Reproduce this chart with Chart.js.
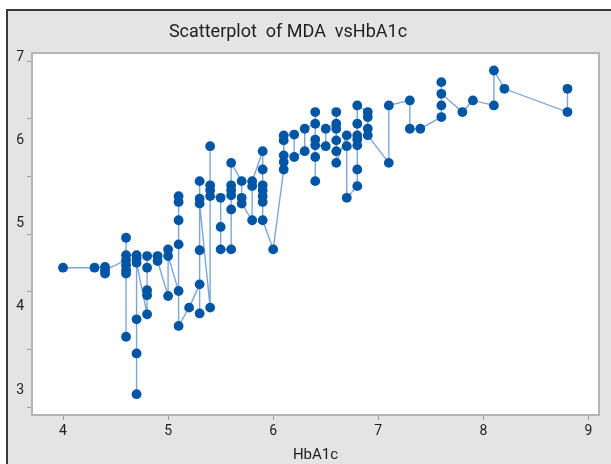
<!DOCTYPE html>
<html><head><meta charset="utf-8">
<script src="https://cdn.jsdelivr.net/npm/chart.js@4"></script>
<style>html,body{margin:0;padding:0;background:#fff}#wrap{width:611px;height:464px}</style>
</head><body><div id="wrap"><canvas id="c" width="611" height="464"></canvas></div>
<script>
const chartTitle = 'Scatterplot  of MDA  vsHbA1c';
const xAxisTitle = 'HbA1c';
const hba1c = [
  4.0, 4.3, 4.4, 4.4, 4.4,
  4.6, 4.6, 4.6, 4.6, 4.6, 4.6, 4.6,
  4.7, 4.7, 4.7, 4.7, 4.7, 4.7,
  4.8, 4.8, 4.8, 4.8, 4.8,
  4.9, 4.9,
  5.0, 5.0, 5.0,
  5.1, 5.1, 5.1, 5.1, 5.1, 5.1,
  5.2,
  5.3, 5.3, 5.3, 5.3, 5.3, 5.3,
  5.4, 5.4, 5.4, 5.4, 5.4,
  5.5, 5.5, 5.5,
  5.6, 5.6, 5.6, 5.6, 5.6, 5.6,
  5.7, 5.7, 5.7,
  5.8, 5.8, 5.8,
  5.9, 5.9, 5.9, 5.9, 5.9, 5.9, 5.9,
  6.0,
  6.1, 6.1, 6.1, 6.1, 6.1,
  6.2, 6.2,
  6.3, 6.3,
  6.4, 6.4, 6.4, 6.4, 6.4, 6.4,
  6.5, 6.5,
  6.6, 6.6, 6.6, 6.6, 6.6, 6.6,
  6.7, 6.7, 6.7,
  6.8, 6.8, 6.8, 6.8, 6.8, 6.8, 6.8,
  6.9, 6.9, 6.9, 6.9,
  7.1, 7.1,
  7.3, 7.3,
  7.4,
  7.6, 7.6, 7.6, 7.6,
  7.8,
  7.9,
  8.1, 8.1,
  8.2,
  8.8, 8.8
];
const mda = [
  4.47, 4.47, 4.48, 4.40, 4.44,
  4.56, 4.83, 3.64, 4.40, 4.44, 4.50, 4.62,
  4.62, 2.95, 3.44, 3.85, 4.58, 4.53,
  3.91, 4.14, 4.20, 4.47, 4.61,
  4.61, 4.55,
  4.13, 4.69, 4.61,
  4.19, 5.33, 5.26, 5.04, 4.75, 3.77,
  3.99,
  4.27, 3.92, 4.68, 5.51, 5.30, 5.24,
  3.99, 5.93, 5.46, 5.40, 5.33,
  5.31, 4.96, 4.69,
  4.69, 5.17, 5.34, 5.40, 5.46, 5.73,
  5.51, 5.31, 5.24,
  5.04, 5.45, 5.51,
  5.87, 5.65, 5.46, 5.40, 5.33, 5.26, 5.04,
  4.69,
  5.65, 5.74, 5.82, 6.00, 6.06,
  6.07, 5.80,
  5.87, 6.14,
  6.20, 6.34, 6.01, 5.80, 5.51, 5.94,
  5.93, 6.14,
  6.20, 6.34, 6.14, 6.00, 5.87, 5.73,
  6.06, 5.93, 5.31,
  5.45, 5.65, 5.94, 6.01, 6.06, 6.20, 6.42,
  6.34, 6.28, 6.14, 6.06,
  5.73, 6.42,
  6.48, 6.14,
  6.14,
  6.28, 6.42, 6.70, 6.56,
  6.34,
  6.48,
  6.42, 6.84,
  6.62,
  6.34, 6.62
];
const xTicks = [4, 5, 6, 7, 8, 9];
const yTicks = [3, 4, 5, 6, 7];
const yMinorTicks = [2.796, 3.489, 4.181, 4.874, 5.567, 6.259, 6.952];

const FONT = 'Roboto, "Open Sans", sans-serif';
const points = hba1c.map((x, i) => ({x: x, y: mda[i]}));

const framePlugin = {
  id: 'frame',
  beforeDraw(chart) {
    const ctx = chart.ctx, a = chart.chartArea;
    ctx.save();
    ctx.fillStyle = '#ffffff';
    ctx.fillRect(0, 0, chart.width, chart.height);
    ctx.fillStyle = '#e4e4e4';
    ctx.fillRect(7, 10, chart.width - 7, chart.height - 10);
    ctx.strokeStyle = '#3a3a3a';
    ctx.lineWidth = 2;
    ctx.beginPath();
    ctx.moveTo(7, chart.height); ctx.lineTo(7, 10); ctx.lineTo(chart.width, 10);
    ctx.stroke();
    ctx.fillStyle = '#ffffff';
    ctx.fillRect(a.left, a.top, a.right - a.left, a.bottom - a.top);
    ctx.restore();
  },
  beforeDatasetsDraw(chart) {
    const ctx = chart.ctx, a = chart.chartArea;
    ctx.save();
    ctx.strokeStyle = '#b4b4b4';
    ctx.lineWidth = 2;
    ctx.strokeRect(a.left, a.top, a.right - a.left, a.bottom - a.top);
    ctx.restore();
  },
  afterDraw(chart) {
    const ctx = chart.ctx;
    ctx.save();
    ctx.fillStyle = '#1e1e1e';
    ctx.font = '18px ' + FONT;
    ctx.textAlign = 'center';
    ctx.textBaseline = 'middle';
    ctx.fillText(chartTitle, 288, 32);
    ctx.restore();
  }
};

new Chart(document.getElementById('c'), {
  type: 'scatter',
  data: {
    datasets: [{
      data: points,
      showLine: true,
      borderColor: 'rgba(80,136,205,0.75)',
      borderWidth: 1.4,
      pointBackgroundColor: '#0055a5',
      pointBorderColor: '#0055a5',
      pointBorderWidth: 0,
      pointRadius: 4.9,
      tension: 0
    }]
  },
  options: {
    responsive: false,
    devicePixelRatio: 1,
    animation: false,
    layout: {padding: {top: 53, left: 0, right: 12, bottom: 0}},
    plugins: {legend: {display: false}, tooltip: {enabled: false}, title: {display: false}},
    scales: {
      x: {
        type: 'linear', position: 'bottom', min: 3.705, max: 9.10,
        afterFit: s => { s.height = 49; },
        afterBuildTicks: s => { s.ticks = xTicks.map(v => ({value: v})); },
        grid: {display: true, drawOnChartArea: false, drawTicks: true, tickLength: 5, color: '#9a9a9a', lineWidth: 1},
        border: {display: false},
        ticks: {font: {family: FONT, size: 14}, color: '#1e1e1e', padding: 3, maxRotation: 0},
        title: {display: true, text: xAxisTitle, font: {family: FONT, size: 15}, color: '#1e1e1e', padding: {top: 0, bottom: 0}}
      },
      y: {
        type: 'linear', position: 'left', weight: 1, min: 2.70, max: 7.05,
        afterFit: s => { s.width = 32; },
        afterBuildTicks: s => { s.ticks = yTicks.map(v => ({value: v})); },
        grid: {display: false, drawTicks: false},
        border: {display: false},
        ticks: {font: {family: FONT, size: 14}, color: '#1e1e1e', padding: 8}
      },
      y2: {
        type: 'linear', position: 'left', weight: 0, min: 2.70, max: 7.05,
        afterFit: s => { s.width = 0; },
        afterBuildTicks: s => { s.ticks = yMinorTicks.map(v => ({value: v})); },
        grid: {display: true, drawOnChartArea: false, drawTicks: true, tickLength: 5, color: '#9a9a9a', lineWidth: 1},
        border: {display: false},
        ticks: {callback: () => '', padding: 0}
      }
    }
  },
  plugins: [framePlugin]
});
</script>
</body></html>
